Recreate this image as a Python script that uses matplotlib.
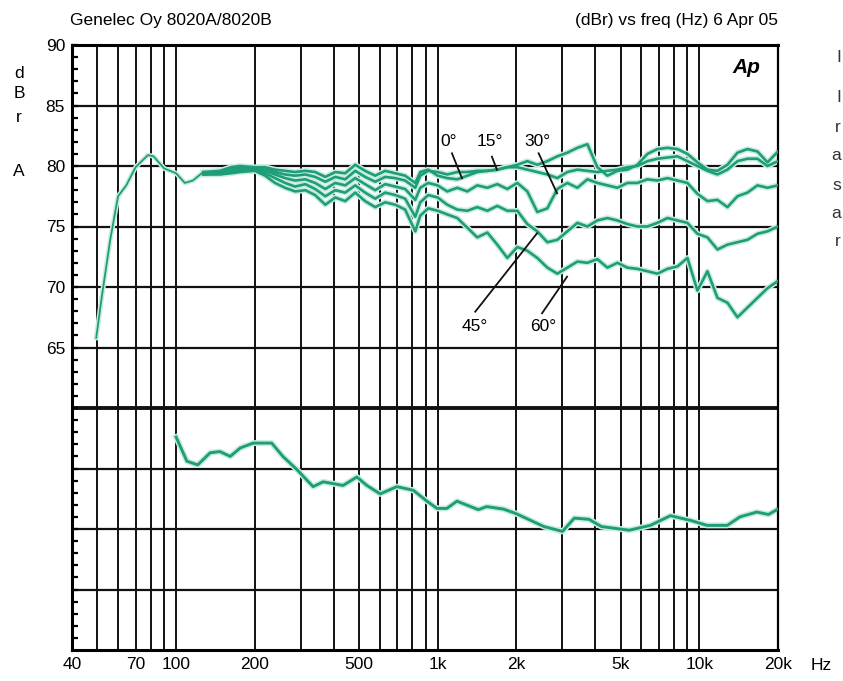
import numpy as np
import matplotlib.pyplot as plt
from matplotlib.ticker import FixedLocator, NullFormatter

plt.rcParams['font.family'] = ['Liberation Sans', 'DejaVu Sans']

GREEN = "#1f9d78"
HALO = "#c8ece0"

# shared low-frequency roll-off (all angles coincide here)
freq_low = [49.5, 52, 56, 60, 64.5, 70, 78, 82, 90, 100, 108, 116, 127]
db_low = [65.8, 69.2, 73.9, 77.5, 78.4, 79.9, 80.9, 80.8, 79.8, 79.4, 78.6, 78.8, 79.5]

# upper response curves (0, 15, 30, 45, 60 degrees)
freq_top = [127, 147, 162, 175,
            200, 219, 239, 261, 285, 312, 340, 372, 406, 443, 484, 528, 577, 630,
            688, 751, 821, 858, 920,
            1000, 1088, 1188, 1298, 1417, 1548, 1690, 1846, 2016, 2201, 2404, 2626,
            2867, 3132, 3420, 3735, 4078, 4455, 4865, 5313, 5801, 6336, 6918, 7557,
            8253, 9012, 9841, 10748, 11737, 12817, 13996, 15285, 16692, 18231, 20000]

db_0 = [79.5, 79.6, 79.9, 80.0,
        79.9, 79.9, 79.7, 79.6, 79.5, 79.6, 79.5, 79.1, 79.5, 79.4, 80.1, 79.6, 79.2, 79.6,
        79.4, 79.2, 78.6, 79.5, 79.7,
        79.2, 79.0, 78.9, 79.2, 79.5, 79.6, 79.7, 79.9, 80.1, 80.4, 80.1, 80.4,
        80.8, 81.1, 81.5, 81.8, 79.9, 79.2, 79.6, 79.7, 80.1, 81.0, 81.4, 81.5,
        81.4, 81.0, 80.3, 79.7, 79.6, 80.1, 81.1, 81.4, 81.2, 80.3, 81.2]
db_15 = [79.4, 79.5, 79.8, 79.9,
         79.8, 79.8, 79.5, 79.3, 79.2, 79.3, 79.1, 78.7, 79.1, 78.9, 79.6, 79.1, 78.7, 79.1,
         79.0, 78.8, 78.2, 79.2, 79.6,
         79.5, 79.3, 79.5, 79.5, 79.6, 79.6, 79.7, 79.9, 79.9, 79.7, 79.5, 79.3,
         79.0, 79.5, 79.7, 79.6, 79.5, 79.6, 79.7, 79.9, 80.0, 80.4, 80.6, 80.7,
         80.8, 80.4, 80.0, 79.6, 79.3, 79.7, 80.4, 80.6, 80.6, 80.0, 80.4]
db_30 = [79.4, 79.5, 79.6, 79.8,
         79.8, 79.6, 79.3, 79.0, 78.8, 78.9, 78.6, 78.1, 78.6, 78.4, 79.0, 78.5, 78.0, 78.5,
         78.3, 78.1, 77.2, 78.2, 78.6,
         78.4, 77.9, 78.2, 77.9, 78.4, 78.2, 78.5, 78.1, 78.6, 77.9, 76.2, 76.5,
         78.1, 78.6, 78.2, 78.9, 78.6, 78.4, 78.2, 78.6, 78.6, 78.9, 78.8, 79.0,
         78.8, 78.6, 77.7, 77.1, 77.2, 76.6, 77.5, 77.8, 78.4, 78.2, 78.4]
db_45 = [79.3, 79.4, 79.5, 79.7,
         79.7, 79.4, 79.0, 78.6, 78.3, 78.5, 78.1, 77.5, 78.0, 77.8, 78.4, 77.8, 77.3, 77.8,
         77.6, 77.3, 75.8, 77.0, 77.6,
         77.4, 76.8, 76.4, 76.3, 76.6, 76.3, 76.7, 76.3, 76.3, 75.2, 74.6, 73.7,
         73.9, 74.6, 75.3, 75.0, 75.5, 75.7, 75.5, 75.2, 75.0, 75.0, 75.3, 75.7,
         75.5, 75.3, 74.4, 74.1, 73.1, 73.5, 73.7, 73.9, 74.4, 74.6, 75.0]
db_60 = [79.3, 79.3, 79.4, 79.5,
         79.6, 79.2, 78.6, 78.2, 77.9, 78.0, 77.6, 76.8, 77.4, 77.1, 77.8, 77.1, 76.6, 77.0,
         76.8, 76.4, 74.6, 75.9, 76.5,
         76.3, 76.0, 75.7, 74.9, 74.1, 74.5, 73.5, 72.4, 73.3, 73.0, 72.4, 71.6,
         71.1, 71.6, 72.1, 72.0, 72.3, 71.6, 72.0, 71.6, 71.5, 71.3, 71.1, 71.5,
         71.7, 72.4, 69.7, 71.3, 69.1, 68.7, 67.5, 68.3, 69.1, 69.9, 70.5]

# lower trace
freq_bot = [100, 110, 121, 135, 147, 161, 176, 197, 232, 256, 290, 334, 365, 435,
            491, 536, 603, 698, 807, 910, 994, 1084, 1185, 1430, 1540, 1780, 1980,
            2550, 3000, 3330, 3790, 4230, 5400, 6500, 7760, 9300, 10700, 12800,
            14300, 16600, 18400, 20000]
db_bot = [57.6, 55.6, 55.3, 56.3, 56.4, 56.0, 56.7, 57.1, 57.1, 56.0, 54.9, 53.5, 53.9, 53.6,
          54.3, 53.6, 52.9, 53.5, 53.2, 52.3, 51.7, 51.7, 52.3, 51.6, 51.85, 51.65, 51.3,
          50.2, 49.8, 50.9, 50.8, 50.2, 49.9, 50.3, 51.1, 50.7, 50.3, 50.3,
          51.0, 51.4, 51.2, 51.65]

xtick_vals = [40, 70, 100, 200, 500, 1000, 2000, 5000, 10000, 20000]
xtick_labels = ["40", "70", "100", "200", "500", "1k", "2k", "5k", "10k", "20k"]
vgrid = [50, 60, 70, 80, 90, 100, 200, 300, 400, 500, 600, 700, 800, 900,
         1000, 2000, 3000, 4000, 5000, 6000, 7000, 8000, 9000, 10000]
ytick_vals = [65, 70, 75, 80, 85, 90]
hgrid = [45, 50, 55, 65, 70, 75, 80, 85]

FS = 12.5

fig = plt.figure(figsize=(8.43, 6.81), dpi=100)
ax = fig.add_axes([72 / 843, 1 - 650 / 681, 706 / 843, 605 / 681])
ax.set_xscale("log")
ax.set_xlim(40, 20000)
ax.set_ylim(40, 90)

for f in vgrid:
    ax.axvline(f, color="#111111", lw=1.4, zorder=1)
for d in hgrid:
    ax.axhline(d, color="#111111", lw=1.6, zorder=1)
ax.axhline(60, color="#111111", lw=2.8, zorder=1)

def trace(fx, dy, lw=1.9):
    ax.plot(fx, dy, color=HALO, lw=lw + 2.2, solid_joinstyle="round", zorder=2)
    ax.plot(fx, dy, color=GREEN, lw=lw, solid_joinstyle="round", zorder=3)

trace(freq_low, db_low, lw=1.3)
for curve in [db_60, db_45, db_30, db_15, db_0]:
    trace(freq_top, curve)
trace(freq_bot, db_bot, lw=2.1)

# angle annotations
ann = dict(fontsize=FS, ha="center", va="center", zorder=5)
ax.text(1098, 82.0, "0°", **ann)
ax.plot([1134, 1239], [81.05, 78.98], color="#111111", lw=1.3, zorder=4)
ax.text(1589, 82.0, "15°", **ann)
ax.plot([1612, 1686], [80.77, 79.67], color="#111111", lw=1.3, zorder=4)
ax.text(2398, 82.0, "30°", **ann)
ax.plot([2432, 2860], [81.05, 77.74], color="#111111", lw=1.3, zorder=4)
ax.text(1392, 66.7, "45°", **ann)
ax.plot([1392, 2398], [67.96, 74.44], color="#111111", lw=1.3, zorder=4)
ax.text(2535, 66.7, "60°", **ann)
ax.plot([2506, 3123], [67.83, 70.85], color="#111111", lw=1.3, zorder=4)

ax.xaxis.set_major_locator(FixedLocator(xtick_vals))
ax.set_xticklabels(xtick_labels)
ax.xaxis.set_minor_formatter(NullFormatter())
ax.xaxis.set_minor_locator(FixedLocator([]))
ax.set_yticks(ytick_vals)
ax.yaxis.set_minor_locator(FixedLocator(list(range(41, 90))))
ax.tick_params(axis="both", which="major", length=0, labelsize=FS, pad=5)
ax.tick_params(axis="y", which="minor", direction="in", length=4, width=1.6, left=True)
ax.tick_params(axis="y", which="major", direction="in", length=4, width=1.6)

for side, w in [("left", 2.2), ("bottom", 2.2), ("top", 2.2), ("right", 1.6)]:
    ax.spines[side].set_linewidth(w)

fig.text(70 / 843, 1 - 20 / 681, "Genelec Oy 8020A/8020B", fontsize=FS, va="center", ha="left")
fig.text(778 / 843, 1 - 20 / 681, "(dBr) vs freq (Hz) 6 Apr 05", fontsize=FS, va="center", ha="right")
fig.text(821 / 843, 1 - 665 / 681, "Hz", fontsize=FS, va="center", ha="center")
for ch, yp in [("d", 73), ("B", 94), ("r", 118), ("A", 172)]:
    fig.text(19 / 843, 1 - yp / 681, ch, fontsize=FS, va="center", ha="center")
ax.text(0.975, 0.962, "Ap", transform=ax.transAxes, fontsize=15, fontweight="bold",
        fontstyle="italic", ha="right", va="center")

# characters along the right edge of the scan
for ch, yp in [("I", 57), ("I", 97), ("r", 127), ("a", 155), ("s", 185), ("a", 213), ("r", 242)]:
    fig.text(841 / 843, 1 - yp / 681, ch, fontsize=FS, va="center", ha="right", color="#333333")

plt.savefig("out.png", dpi=100)
